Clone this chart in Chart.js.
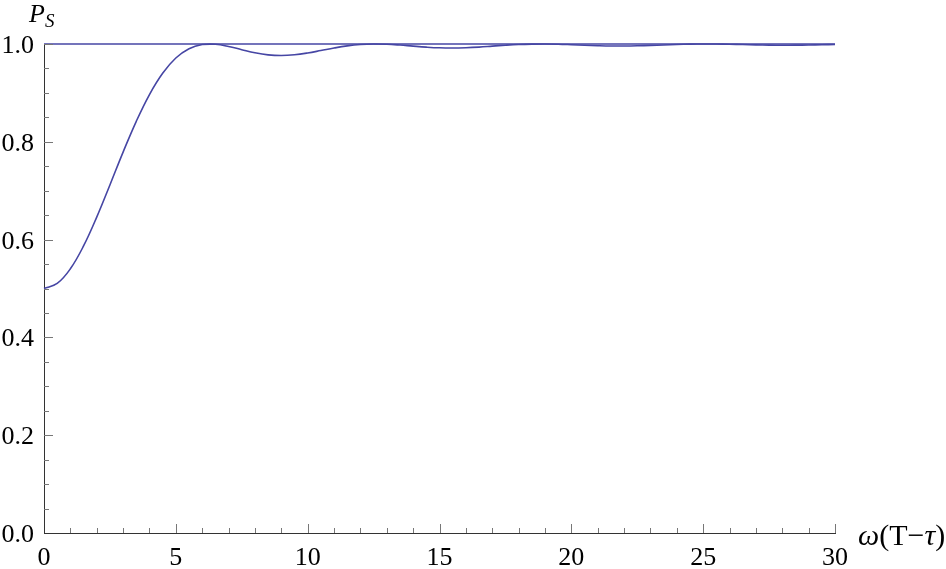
<!DOCTYPE html>
<html>
<head>
<meta charset="utf-8">
<script src="https://cdn.jsdelivr.net/npm/chart.js@4"></script>
<style>
  body { margin: 0; background: #fff; }
  #wrap { width: 946px; height: 569px; position: relative; }
</style>
</head>
<body>
<div id="wrap"><canvas id="grafica"></canvas></div>
<script>
// omega(T - tau) values
const xValores = [0, 0.5, 1, 1.5, 2, 2.5, 3, 3.5, 4, 4.5, 5, 5.5, 6, 6.5, 7, 7.5, 8, 8.5, 9, 9.5,
  10, 10.5, 11, 11.5, 12, 12.5, 13, 13.5, 14, 14.5, 15, 15.5, 16, 16.5, 17, 17.5, 18, 18.5, 19, 19.5,
  20, 20.5, 21, 21.5, 22, 22.5, 23, 23.5, 24, 24.5, 25, 25.5, 26, 26.5, 27, 27.5, 28, 28.5, 29, 29.5, 30];
// P_S
const psValores = [0.5000, 0.5103, 0.5403, 0.5870, 0.6460, 0.7118, 0.7789, 0.8419, 0.8967, 0.9402, 0.9714, 0.9904, 0.9989, 0.9994, 0.9950, 0.9884, 0.9821, 0.9778, 0.9764, 0.9779,
  0.9816, 0.9866, 0.9918, 0.9961, 0.9989, 1.0000, 0.9995, 0.9978, 0.9956, 0.9936, 0.9922, 0.9918, 0.9924, 0.9937, 0.9956, 0.9975, 0.9990, 0.9998, 1.0000, 0.9995,
  0.9985, 0.9974, 0.9965, 0.9959, 0.9959, 0.9963, 0.9971, 0.9981, 0.9990, 0.9997, 1.0000, 0.9999, 0.9995, 0.9989, 0.9982, 0.9977, 0.9975, 0.9976, 0.9979, 0.9985, 0.9991];
// limite superior
const limiteX = [0, 30];
const limiteY = [1, 1];

const xMarcas = [0, 5, 10, 15, 20, 25, 30];
const yMarcas = [0, 0.2, 0.4, 0.6, 0.8, 1.0];
const yEtiquetas = ['0.0', '0.2', '0.4', '0.6', '0.8', '1.0'];

const colorLinea = '#4646a4';
const fuente = "'Liberation Serif', 'Times New Roman', serif";

const marcasPlugin = {
    id: 'marcas',
    afterDraw(chart) {
        const ctx = chart.ctx;
        const xs = chart.scales.x;
        const ys = chart.scales.y;
        const area = chart.chartArea;
        ctx.save();
        ctx.strokeStyle = '#777';
        ctx.lineWidth = 1;
        // x ticks cada 1, mayores cada 5
        for (let v = 1; v <= 30; v++) {
            const px = Math.round(xs.getPixelForValue(v)) + 0.5;
            const largo = v % 5 === 0 ? 9 : 5;
            ctx.beginPath();
            ctx.moveTo(px, area.bottom);
            ctx.lineTo(px, area.bottom - largo);
            ctx.stroke();
        }
        // y ticks cada 0.05, mayores cada 0.2
        for (let i = 1; i <= 20; i++) {
            const v = i * 0.05;
            const py = Math.round(ys.getPixelForValue(v)) + 0.5;
            const largo = i % 4 === 0 ? 9 : 5;
            ctx.beginPath();
            ctx.moveTo(area.left, py);
            ctx.lineTo(area.left + largo, py);
            ctx.stroke();
        }

        // etiquetas
        ctx.fillStyle = '#000';
        ctx.textBaseline = 'alphabetic';
        ctx.font = '26px ' + fuente;
        ctx.textAlign = 'center';
        xMarcas.forEach(v => {
            ctx.fillText(String(v), xs.getPixelForValue(v), area.bottom + 32);
        });
        ctx.textAlign = 'right';
        yMarcas.forEach((v, i) => {
            ctx.fillText(yEtiquetas[i], area.left - 10, ys.getPixelForValue(v) + 9);
        });

        // titulos de ejes
        ctx.textAlign = 'left';
        ctx.font = 'italic 26px ' + fuente;
        ctx.fillText('P', area.left - 15, 22);
        ctx.font = 'italic 19px ' + fuente;
        ctx.fillText('S', area.left + 1, 27);

        let x = area.right + 23;
        const base = area.bottom + 12;
        const partes = [['ω', 'italic'], ['(T−', 'normal'], ['τ', 'italic'], [')', 'normal']];
        partes.forEach(([t, estilo]) => {
            ctx.font = estilo + ' 30px ' + fuente;
            ctx.fillText(t, x, base);
            x += ctx.measureText(t).width;
        });
        ctx.restore();
    }
};

const ctx = document.getElementById('grafica').getContext('2d');
const grafica = new Chart(ctx, {
    type: 'line',
    data: {
        datasets: [
            {
                data: xValores.map((x, i) => ({ x: x, y: psValores[i] })),
                borderColor: colorLinea,
                borderWidth: 1.6,
                pointRadius: 0,
                tension: 0.4,
                fill: false,
                clip: false
            },
            {
                data: limiteX.map((x, i) => ({ x: x, y: limiteY[i] })),
                borderColor: colorLinea,
                borderWidth: 1.6,
                pointRadius: 0,
                fill: false,
                clip: false
            }
        ]
    },
    options: {
        responsive: true,
        maintainAspectRatio: false,
        animation: false,
        layout: { padding: { top: 44, right: 111, bottom: 0, left: 0 } },
        plugins: {
            legend: { display: false },
            tooltip: { enabled: false }
        },
        scales: {
            x: {
                type: 'linear',
                min: 0,
                max: 30,
                afterFit: scale => { scale.height = 36; },
                grid: { display: false, drawTicks: false },
                border: { display: true, color: '#333', width: 1 },
                ticks: { display: false, stepSize: 5 }
            },
            y: {
                min: 0,
                max: 1,
                afterFit: scale => { scale.width = 44; },
                grid: { display: false, drawTicks: false },
                border: { display: true, color: '#333', width: 1 },
                ticks: { display: false, stepSize: 0.2 }
            }
        }
    },
    plugins: [marcasPlugin]
});
</script>
</body>
</html>
